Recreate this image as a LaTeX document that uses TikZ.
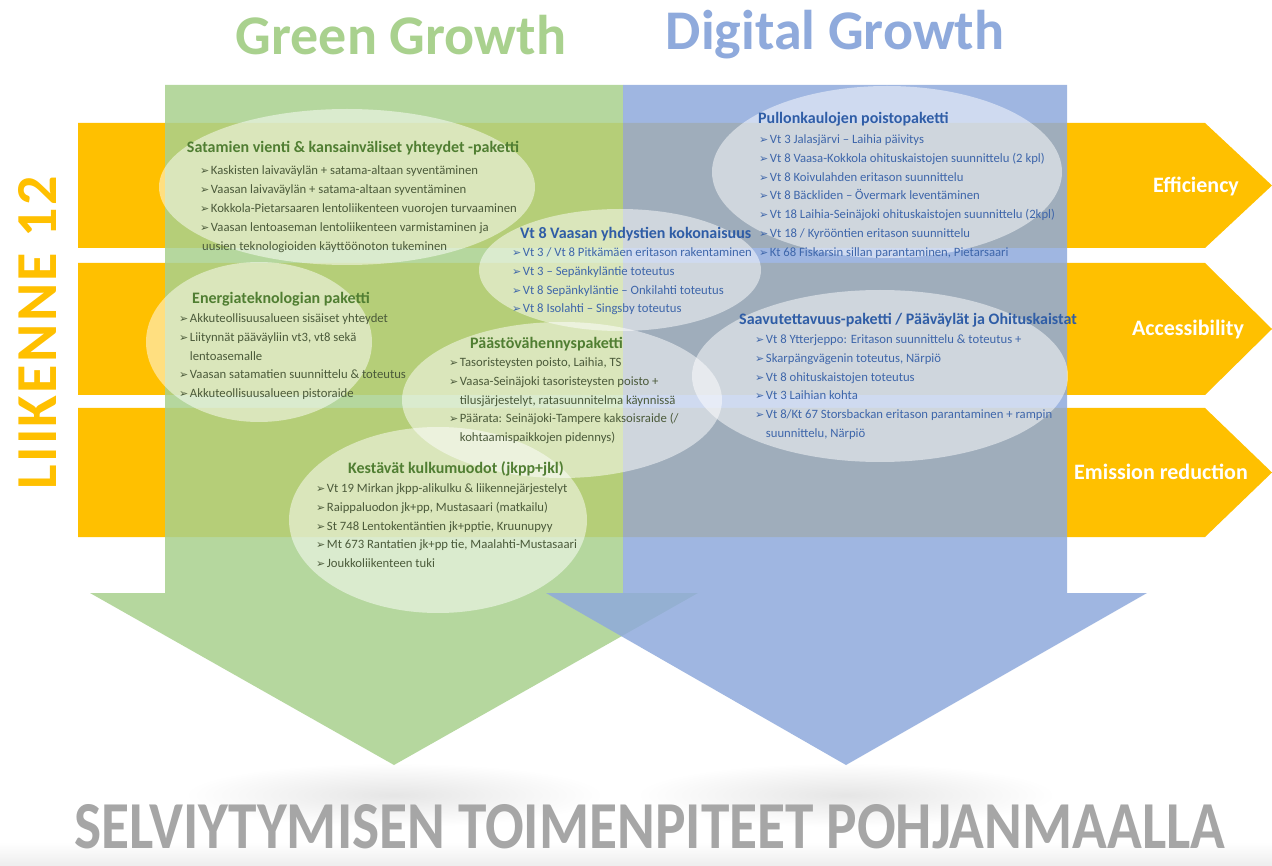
\documentclass[tikz,border=0pt]{standalone}
\usepackage{fontspec}
\usepackage{graphicx}
\setmainfont{Carlito}
\newfontfamily\dejavu{DejaVu Sans}
\newfontfamily\lkfont[LetterSpace=4]{Carlito}
\usetikzlibrary{shapes.geometric}
\definecolor{yel}{HTML}{FFC000}
\definecolor{grn}{HTML}{A9D18E}
\definecolor{blu}{HTML}{8FAADC}
\definecolor{gtitle}{HTML}{507E32}
\definecolor{gtext}{HTML}{4B5A3A}
\definecolor{btitle}{HTML}{2F5DA6}
\definecolor{btext}{HTML}{3E66AA}
\definecolor{bottomgrey}{HTML}{A6A6A6}
\newcommand\bul{{\dejavu\fontsize{11}{11}\selectfont ➢}\hspace{1.5pt}}
\newcommand\cont{\hphantom{\bul}}
\tikzset{
  bandfill/.style={fill=yel, draw=none},
  greenarrow/.style={fill=grn, fill opacity=0.85, draw=none},
  bluearrow/.style={fill=blu, fill opacity=0.85, draw=none},
  bubble/.style={ellipse, fill=white, fill opacity=0.5, draw=none, inner sep=0},
  ttl/.style={font=\fontsize{16}{17}\selectfont\bfseries, anchor=base west, inner sep=0},
  gt/.style={ttl, text=gtitle},
  bt/.style={ttl, text=btitle},
  itm/.style={font=\fontsize{12.7}{13}\selectfont, anchor=base west, inner sep=0},
  gi/.style={itm, text=gtext},
  bi/.style={itm, text=btext},
  lab/.style={text=white, font=\fontsize{22}{23}\selectfont\bfseries, inner sep=0},
  bigtitle/.style={font=\fontsize{56}{60}\selectfont\bfseries, inner sep=0}
}
\begin{document}
\begin{tikzpicture}[x=1pt,y=-1pt]
\useasboundingbox (0,0) rectangle (1272,866);
\fill[white] (0,0) rectangle (1272,866);

% reflections
\shade[inner color=black!10, outer color=white] (394,795) ellipse (210pt and 32pt);
\shade[inner color=black!10, outer color=white] (846,795) ellipse (210pt and 32pt);
\shade[top color=white, bottom color=black!7] (0,842) rectangle (1272,866);

% yellow bands
\fill[bandfill] (78,123) -- (1205,123) -- (1272,185.5) -- (1205,248) -- (78,248) -- cycle;
\fill[bandfill] (78,263) -- (1205,263) -- (1272,329) -- (1205,395) -- (78,395) -- cycle;
\fill[bandfill] (78,408) -- (1205,408) -- (1272,472.5) -- (1205,537) -- (78,537) -- cycle;

% big arrows
\fill[greenarrow] (165,85) -- (623,85) -- (623,593) -- (698,593) -- (394,765) -- (90,593) -- (165,593) -- cycle;
\fill[bluearrow] (623,85) -- (1067,85) -- (1067,593) -- (1147,593) -- (846,765) -- (546,593) -- (623,593) -- cycle;

% bubbles
\node[bubble, minimum width=376pt, minimum height=156pt] (esat) at (347,187) {};
\node[bubble, minimum width=350pt, minimum height=172pt] (epul) at (887,172) {};
\node[bubble, minimum width=282pt, minimum height=122pt] (evt) at (620,270) {};
\node[bubble, minimum width=226pt, minimum height=160pt] (eene) at (259,342) {};
\node[bubble, minimum width=320pt, minimum height=156pt] (epaa) at (562,400) {};
\node[bubble, minimum width=376pt, minimum height=172pt] (esaa) at (880,376) {};
\node[bubble, minimum width=298pt, minimum height=186pt] (ekes) at (438,520) {};

% titles
\node[bigtitle, text=grn] (gg) at (401,35) {Green Growth};
\node[bigtitle, text=blu] (dg) at (835,35) {Digital Growth};
\node[text=yel, inner sep=0, rotate=90] (lk) at (37,333) {\lkfont\fontsize{58}{60}\selectfont\bfseries LIIKENNE 12};
\node[text=bottomgrey, inner sep=0] (bot) at (650,827) {\resizebox{1150pt}{44pt}{\bfseries SELVIYTYMISEN TOIMENPITEET POHJANMAALLA}};

% band labels
\node[lab] (eff) at (1196,186) {Efficiency};
\node[lab] (acc) at (1188,330) {Accessibility};
\node[lab] (emi) at (1161,472) {Emission reduction};

% Satamien
\node[gt, anchor=base] (sat0) at (353,153) {Satamien vienti \& kansainväliset yhteydet -paketti};
\node[gi] (sat1) at (200,174.5) {\bul Kaskisten laivaväylän + satama-altaan syventäminen};
\node[gi] (sat2) at (200,193.5) {\bul Vaasan laivaväylän + satama-altaan syventäminen};
\node[gi] (sat3) at (200,212.5) {\bul Kokkola-Pietarsaaren lentoliikenteen vuorojen turvaaminen};
\node[gi] (sat4) at (200,231.5) {\bul Vaasan lentoaseman lentoliikenteen varmistaminen ja};
\node[gi] (sat5) at (202,250.5) {uusien teknologioiden käyttöönoton tukeminen};

% Pullonkaulojen
\node[bt] (pul0) at (758,124) {Pullonkaulojen poistopaketti};
\node[bi] (pul1) at (759,143.5) {\bul Vt 3 Jalasjärvi – Laihia päivitys};
\node[bi] (pul2) at (759,162.3) {\bul Vt 8 Vaasa-Kokkola ohituskaistojen suunnittelu (2 kpl)};
\node[bi] (pul3) at (759,181.1) {\bul Vt 8 Koivulahden eritason suunnittelu};
\node[bi] (pul4) at (759,199.9) {\bul Vt 8 Bäckliden – Övermark leventäminen};
\node[bi] (pul5) at (759,218.7) {\bul Vt 18 Laihia-Seinäjoki ohituskaistojen suunnittelu (2kpl)};
\node[bi] (pul6) at (759,237.5) {\bul Vt 18 / Kyrööntien eritason suunnittelu};
\node[bi] (pul7) at (759,256.3) {\bul Kt 68 Fiskarsin sillan parantaminen, Pietarsaari};

% Vt 8 Vaasan
\node[bt] (vt0) at (520,239) {Vt 8 Vaasan yhdystien kokonaisuus};
\node[bi] (vt1) at (512,256.5) {\bul Vt 3 / Vt 8 Pitkämäen eritason rakentaminen};
\node[bi] (vt2) at (512,275.3) {\bul Vt 3 – Sepänkyläntie toteutus};
\node[bi] (vt3) at (512,294.1) {\bul Vt 8 Sepänkyläntie – Onkilahti toteutus};
\node[bi] (vt4) at (512,312.9) {\bul Vt 8 Isolahti – Singsby toteutus};

% Energiateknologian
\node[gt] (ene0) at (192,304) {Energiateknologian paketti};
\node[gi] (ene1) at (179,322.5) {\bul Akkuteollisuusalueen sisäiset yhteydet};
\node[gi] (ene2) at (179,341.3) {\bul Liitynnät pääväyliin vt3, vt8 sekä};
\node[gi] (ene3) at (179,360.1) {\cont lentoasemalle};
\node[gi] (ene4) at (179,378.9) {\bul Vaasan satamatien suunnittelu \& toteutus};
\node[gi] (ene5) at (179,397.7) {\bul Akkuteollisuusalueen pistoraide};

% Paastovahennys
\node[gt] (paa0) at (470,349) {Päästövähennyspaketti};
\node[gi] (paa1) at (449,366.5) {\bul Tasoristeysten poisto, Laihia, TS};
\node[gi] (paa2) at (449,385.3) {\bul Vaasa-Seinäjoki tasoristeysten poisto +};
\node[gi] (paa3) at (449,404.1) {\cont tilusjärjestelyt, ratasuunnitelma käynnissä};
\node[gi] (paa4) at (449,422.9) {\bul Päärata: Seinäjoki-Tampere kaksoisraide (/};
\node[gi] (paa5) at (449,441.7) {\cont kohtaamispaikkojen pidennys)};

% Saavutettavuus
\node[bt] (saa0) at (739,325) {Saavutettavuus-paketti / Pääväylät ja Ohituskaistat};
\node[bi] (saa1) at (755,343.5) {\bul Vt 8 Ytterjeppo: Eritason suunnittelu \& toteutus +};
\node[bi] (saa2) at (755,362.3) {\bul Skarpängvägenin toteutus, Närpiö};
\node[bi] (saa3) at (755,381.1) {\bul Vt 8 ohituskaistojen toteutus};
\node[bi] (saa4) at (755,399.9) {\bul Vt 3 Laihian kohta};
\node[bi] (saa5) at (755,418.7) {\bul Vt 8/Kt 67 Storsbackan eritason parantaminen + rampin};
\node[bi] (saa6) at (755,437.5) {\cont suunnittelu, Närpiö};

% Kestavat
\node[gt] (kes0) at (348,473) {Kestävät kulkumuodot (jkpp+jkl)};
\node[gi] (kes1) at (316,492.5) {\bul Vt 19 Mirkan jkpp-alikulku \& liikennejärjestelyt};
\node[gi] (kes2) at (316,511.3) {\bul Raippaluodon jk+pp, Mustasaari (matkailu)};
\node[gi] (kes3) at (316,530.1) {\bul St 748 Lentokentäntien jk+pptie, Kruunupyy};
\node[gi] (kes4) at (316,548.9) {\bul Mt 673 Rantatien jk+pp tie, Maalahti-Mustasaari};
\node[gi] (kes5) at (316,567.7) {\bul Joukkoliikenteen tuki};
\end{tikzpicture}
\end{document}
